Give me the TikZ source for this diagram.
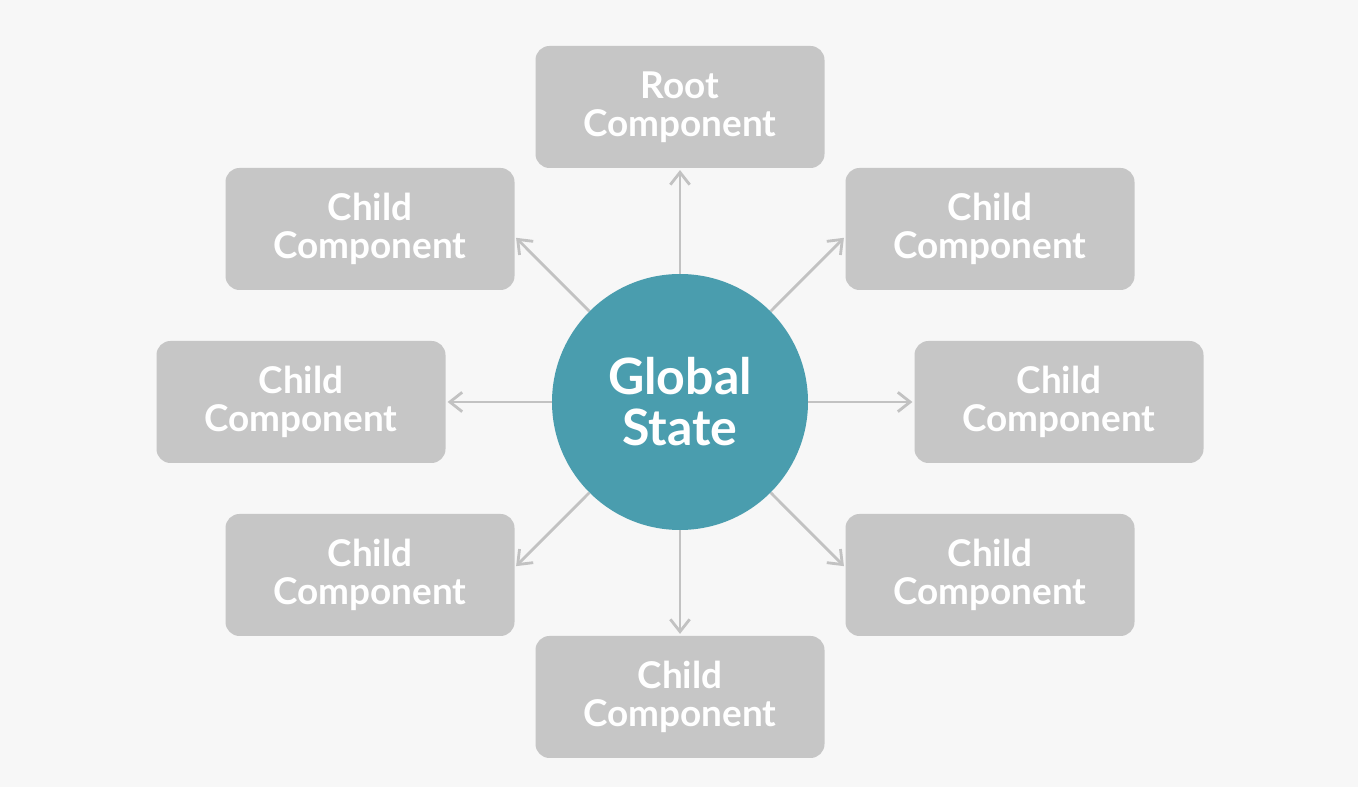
\documentclass[tikz,border=0pt]{standalone}
\usepackage{fontspec}
\setmainfont{Lato}
\usetikzlibrary{arrows.meta}
\definecolor{bggray}{HTML}{F7F7F7}
\definecolor{boxgray}{HTML}{C6C6C6}
\definecolor{linkgray}{HTML}{C2C2C2}
\definecolor{stateteal}{HTML}{4A9DAE}
\tikzset{
  compbox/.style={rectangle, rounded corners=0.28cm, fill=boxgray, text=white,
    minimum width=5.78cm, minimum height=2.44cm, inner sep=0pt, align=center,
    font=\fontsize{21}{21.8}\selectfont\bfseries},
  statecircle/.style={circle, fill=stateteal, text=white, minimum size=5.12cm,
    inner sep=0pt, align=center, font=\fontsize{28.5}{29}\selectfont\bfseries},
  link/.style={draw=linkgray, line width=1.6pt, shorten >=1pt,
    -{Straight Barb[length=7pt, width=11pt, line width=1.6pt]}}
}
\begin{document}
\begin{tikzpicture}
        % Background
        \fill[bggray] (0,0) rectangle (27.16,15.74);
        \useasboundingbox (0,0) rectangle (27.16,15.74);

        % Global state in the middle
        \node[statecircle] (gs) at (13.6,7.7) {Global\\State};

        % Root component on top
        \node[compbox] (root) at (13.6,13.6) {Root\\Component};

        % Child components around the circle
        \node[compbox] (tl) at (7.4,11.16) {Child\\Component}; % Top left
        \node[compbox] (tr) at (19.8,11.16) {Child\\Component}; % Top right
        \node[compbox] (l) at (6.02,7.7) {Child\\Component}; % Left
        \node[compbox] (r) at (21.18,7.7) {Child\\Component}; % Right
        \node[compbox] (bl) at (7.4,4.24) {Child\\Component}; % Bottom left
        \node[compbox] (br) at (19.8,4.24) {Child\\Component}; % Bottom right
        \node[compbox] (bot) at (13.6,1.8) {Child\\Component}; % Bottom

        % Arrows from the global state
        \draw[link] (gs.north) -- (root.south);
        \draw[link] (gs.135) -- (tl.-3);
        \draw[link] (gs.45) -- (tr.-177);
        \draw[link] (gs.west) -- (l.east);
        \draw[link] (gs.east) -- (r.west);
        \draw[link] (gs.-135) -- (bl.3);
        \draw[link] (gs.-45) -- (br.177);
        \draw[link] (gs.south) -- (bot.north);
      \end{tikzpicture}
\end{document}
